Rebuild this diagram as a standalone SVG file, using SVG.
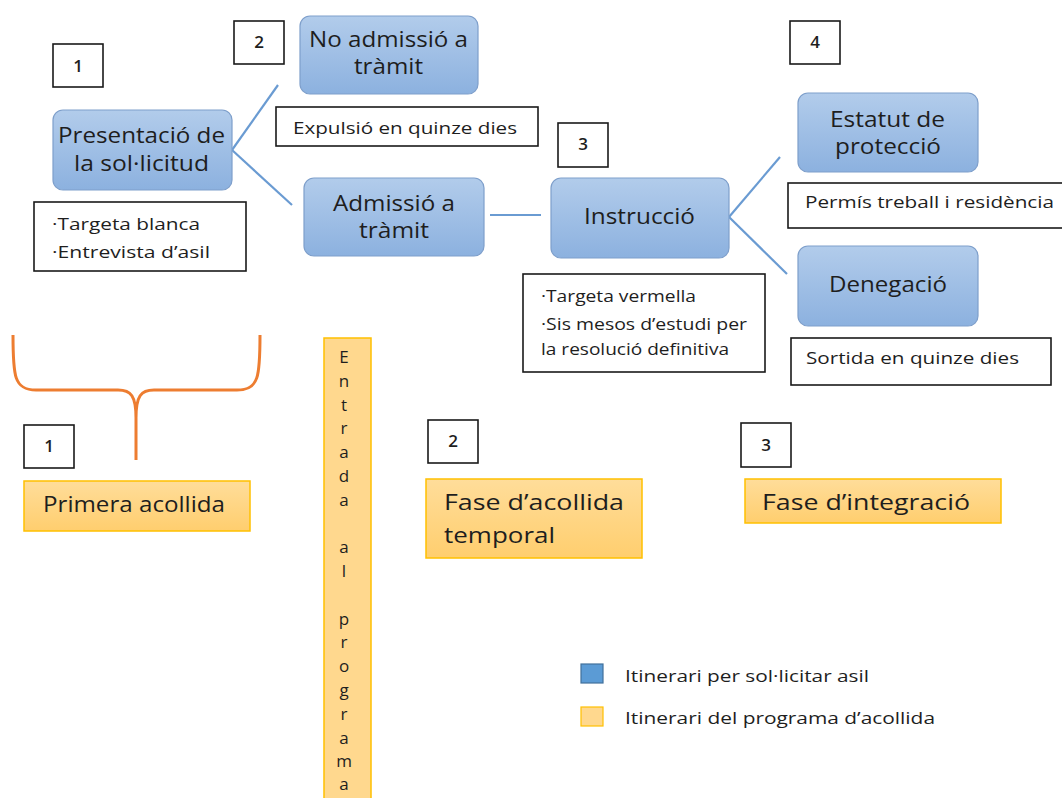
<svg xmlns="http://www.w3.org/2000/svg" width="1062" height="798" viewBox="0 0 1062 798">
<defs>
<linearGradient id="gb" x1="0" y1="0" x2="0" y2="1">
<stop offset="0" stop-color="#B2CCEB"/>
<stop offset="1" stop-color="#8CB1DF"/>
</linearGradient>
<linearGradient id="gy" x1="0" y1="0" x2="0" y2="1">
<stop offset="0" stop-color="#FFDD9A"/>
<stop offset="1" stop-color="#FFCE6E"/>
</linearGradient>
<style>
text{font-family:"Open Sans","Noto Sans","Liberation Sans",sans-serif;fill:#1e1e1e}
.node{fill:url(#gb);stroke:#7E9FCB;stroke-width:1.2}
.info{fill:#fff;stroke:#1a1a1a;stroke-width:1.6}
.num{fill:#fff;stroke:#1a1a1a;stroke-width:1.6}
.ph{fill:url(#gy);stroke:#FFC000;stroke-width:1.5}
.t21{font-size:21px}
.t17{font-size:17px}
.t16{font-size:16px}
.n{font-size:17px;text-anchor:middle;font-weight:600}
.col{font-size:17px;text-anchor:middle}
.conn{stroke:#6A9BD2;stroke-width:2.2;fill:none}
.brace{stroke:#ED7D31;stroke-width:3;fill:none}
</style>
</defs>
<rect width="1062" height="798" fill="#fff"/>

<g id="connectors">
<line class="conn" x1="232" y1="150" x2="278" y2="85"/>
<line class="conn" x1="232" y1="150" x2="292" y2="205"/>
<line class="conn" x1="490" y1="215" x2="541" y2="215"/>
<line class="conn" x1="729" y1="217" x2="780" y2="157"/>
<line class="conn" x1="729" y1="217" x2="787" y2="274"/>
</g>

<g id="num1a"><rect class="num" x="53" y="44" width="50" height="43"/><text class="n" x="78" y="72">1</text></g>
<g id="num2a"><rect class="num" x="234" y="21" width="50" height="43"/><text class="n" x="259" y="48">2</text></g>
<g id="num3a"><rect class="num" x="558" y="123" width="50" height="44"/><text class="n" x="583" y="150">3</text></g>
<g id="num4a"><rect class="num" x="790" y="21" width="50" height="43"/><text class="n" x="815" y="48">4</text></g>

<g id="presentacio">
<rect class="node" x="53" y="110" width="179" height="80" rx="10"/>
<text class="t21" x="58" y="143" textLength="167" lengthAdjust="spacingAndGlyphs">Presentació de</text>
<text class="t21" x="74" y="171" textLength="135" lengthAdjust="spacingAndGlyphs">la sol·licitud</text>
</g>
<g id="targeta-blanca">
<rect class="info" x="34" y="202" width="212" height="69"/>
<text class="t17" x="52" y="230" textLength="148" lengthAdjust="spacingAndGlyphs">·Targeta blanca</text>
<text class="t17" x="52" y="258" textLength="158" lengthAdjust="spacingAndGlyphs">·Entrevista d’asil</text>
</g>

<g id="no-admissio">
<rect class="node" x="300" y="16" width="178" height="78" rx="10"/>
<text class="t21" x="309" y="47" textLength="159" lengthAdjust="spacingAndGlyphs">No admissió a</text>
<text class="t21" x="354" y="74" textLength="69" lengthAdjust="spacingAndGlyphs">tràmit</text>
</g>
<g id="expulsio">
<rect class="info" x="276" y="107" width="262" height="39"/>
<text class="t17" x="293" y="134" textLength="224" lengthAdjust="spacingAndGlyphs">Expulsió en quinze dies</text>
</g>

<g id="admissio">
<rect class="node" x="304" y="178" width="180" height="78" rx="10"/>
<text class="t21" x="333" y="211" textLength="122" lengthAdjust="spacingAndGlyphs">Admissió a</text>
<text class="t21" x="359" y="238" textLength="70" lengthAdjust="spacingAndGlyphs">tràmit</text>
</g>

<g id="instruccio">
<rect class="node" x="551" y="178" width="178" height="80" rx="10"/>
<text class="t21" x="584" y="224" textLength="111" lengthAdjust="spacingAndGlyphs">Instrucció</text>
</g>
<g id="targeta-vermella">
<rect class="info" x="523" y="274" width="242" height="98"/>
<text class="t16" x="541" y="302" textLength="155" lengthAdjust="spacingAndGlyphs">·Targeta vermella</text>
<text class="t16" x="541" y="330" textLength="206" lengthAdjust="spacingAndGlyphs">·Sis mesos d’estudi per</text>
<text class="t16" x="541" y="355" textLength="188" lengthAdjust="spacingAndGlyphs">la resolució definitiva</text>
</g>

<g id="estatut">
<rect class="node" x="798" y="93" width="180" height="79" rx="10"/>
<text class="t21" x="830" y="127" textLength="115" lengthAdjust="spacingAndGlyphs">Estatut de</text>
<text class="t21" x="835" y="154" textLength="106" lengthAdjust="spacingAndGlyphs">protecció</text>
</g>
<g id="permis">
<rect class="info" x="788" y="183" width="280" height="45"/>
<text class="t17" x="805" y="208" textLength="249" lengthAdjust="spacingAndGlyphs">Permís treball i residència</text>
</g>

<g id="denegacio">
<rect class="node" x="798" y="246" width="180" height="80" rx="10"/>
<text class="t21" x="829" y="292" textLength="118" lengthAdjust="spacingAndGlyphs">Denegació</text>
</g>
<g id="sortida">
<rect class="info" x="791" y="338" width="260" height="47"/>
<text class="t17" x="806" y="364" textLength="213" lengthAdjust="spacingAndGlyphs">Sortida en quinze dies</text>
</g>

<g id="brace">
<path class="brace" d="M13,335 C13,376 14,390 36,390 L118,390 C131,390 136,396 136,418 L136,460 M260,335 C260,376 259,390 237,390 L154,390 C141,390 136,396 136,418"/>
</g>

<g id="num1b"><rect class="num" x="24" y="425" width="50" height="43"/><text class="n" x="49" y="452">1</text></g>
<g id="primera-acollida">
<rect class="ph" x="24" y="481" width="226" height="50"/>
<text class="t21" x="43" y="512" textLength="182" lengthAdjust="spacingAndGlyphs">Primera acollida</text>
</g>

<g id="entrada">
<rect x="324" y="338" width="47" height="480" fill="#FFD88E" stroke="#FFC000" stroke-width="1.5"/>
<text class="col" x="344" y="363">E</text>
<text class="col" x="344" y="387">n</text>
<text class="col" x="344" y="411">t</text>
<text class="col" x="344" y="434">r</text>
<text class="col" x="344" y="458">a</text>
<text class="col" x="344" y="482">d</text>
<text class="col" x="344" y="506">a</text>
<text class="col" x="344" y="553">a</text>
<text class="col" x="344" y="577">l</text>
<text class="col" x="344" y="625">p</text>
<text class="col" x="344" y="648">r</text>
<text class="col" x="344" y="672">o</text>
<text class="col" x="344" y="696">g</text>
<text class="col" x="344" y="720">r</text>
<text class="col" x="344" y="744">a</text>
<text class="col" x="344" y="767">m</text>
<text class="col" x="344" y="790">a</text>
</g>

<g id="num2b"><rect class="num" x="428" y="420" width="50" height="43"/><text class="n" x="453" y="447">2</text></g>
<g id="fase-temporal">
<rect class="ph" x="426" y="479" width="216" height="79"/>
<text class="t21" x="444" y="510" textLength="180" lengthAdjust="spacingAndGlyphs">Fase d’acollida</text>
<text class="t21" x="444" y="543" textLength="111" lengthAdjust="spacingAndGlyphs">temporal</text>
</g>

<g id="num3b"><rect class="num" x="741" y="423" width="50" height="44"/><text class="n" x="766" y="451">3</text></g>
<g id="fase-integracio">
<rect class="ph" x="745" y="479" width="256" height="44"/>
<text class="t21" x="762" y="510" textLength="208" lengthAdjust="spacingAndGlyphs">Fase d’integració</text>
</g>

<g id="legend">
<rect x="581" y="664" width="22" height="19" fill="#5B9BD5" stroke="#41719C" stroke-width="1.2"/>
<text class="t16" x="625" y="682" textLength="244" lengthAdjust="spacingAndGlyphs">Itinerari per sol·licitar asil</text>
<rect x="581" y="707" width="22" height="19" fill="#FFD88E" stroke="#FFC000" stroke-width="1.2"/>
<text class="t16" x="625" y="724" textLength="310" lengthAdjust="spacingAndGlyphs">Itinerari del programa d’acollida</text>
</g>
</svg>
